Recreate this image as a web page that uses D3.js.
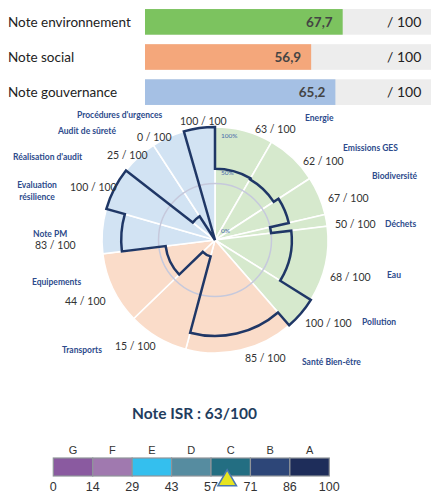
<!DOCTYPE html>
<html>
<head>
<meta charset="utf-8">
<script src="https://cdn.jsdelivr.net/npm/d3@7"></script>
<style>
  body { margin: 0; background: #fff; }
  svg { display: block; }
</style>
</head>
<body>
<div id="chart"></div>
<script>
// ---------------------------------------------------------------
// data
// ---------------------------------------------------------------
const themeNames = ["Note environnement", "Note social", "Note gouvernance"];
const themeScores = [67.7, 56.9, 65.2];
const themeLabels = ["67,7", "56,9", "65,2"];

const critNames = ["Energie", "Emissions GES", "Biodiversité", "Déchets", "Eau", "Pollution",
  "Santé Bien-être", "Transports", "Equipements",
  "Note PM", "Evaluation|résilience", "Réalisation d'audit", "Audit de sûreté", "Procédures d'urgences"];
const critScores = [63, 62, 67, 50, 68, 100, 85, 15, 44, 83, 100, 25, 0, 100];
const critGroup = ["env", "env", "env", "env", "env", "env", "soc", "soc", "soc",
  "gov", "gov", "gov", "gov", "gov"];
// angular width of each criterion (degrees)
const critSpan = [30, 27, 20, 6, 39, 17, 56, 31, 37, 23, 22, 19, 17, 16];

const ringTicks = [100, 50, 0];

const gradeLetters = ["G", "F", "E", "D", "C", "B", "A"];
const gradeTicks = ["0", "14", "29", "43", "57", "71", "86", "100"];
const isrScore = 63;

// ---------------------------------------------------------------
// layout / styles
// ---------------------------------------------------------------
const W = 431, H = 494;
const groupFill = {env: "#d6e9cd", soc: "#fadcc9", gov: "#d2e3f3"};
const barFill = ["#7cc35f", "#f4a77b", "#a5c0e4"];
const gradeFill = ["#8a5aa0", "#a079af", "#34bfee", "#568ca0", "#236e82", "#2d4678", "#1e2d5a"];

// label anchors [x, y] for name and value, same order as critNames
const namePos = [[305, 121], [343, 151], [372, 179], [385, 227], [387, 278], [362, 325],
  [302, 365], [62, 353], [32, 285], [33, 237], [37, 188], [13, 160], [58, 134], [77, 118]];
const valuePos = [[255, 133], [303, 165], [328, 202], [335, 228], [330, 281], [305, 327],
  [245, 362], [115, 350], [65, 305], [35, 249], [70, 191], [107, 159], [137, 141], [180, 125]];

const svg = d3.select("#chart")
  .append("svg")
  .attr("width", W)
  .attr("height", H)
  .attr("viewBox", `0 0 ${W} ${H}`);

// ---------------------------------------------------------------
// top bars
// ---------------------------------------------------------------
const xBar = d3.scaleLinear().domain([0, 100]).range([145, 437]);
const yBar = d3.scaleBand().domain(themeNames).range([8, 106]).paddingInner(0.27).paddingOuter(0.03);

const rows = svg.append("g").selectAll("g")
  .data(themeNames)
  .join("g")
  .attr("transform", d => `translate(0,${yBar(d)})`);

rows.append("rect")
  .attr("x", xBar(0))
  .attr("width", xBar(100) - xBar(0))
  .attr("height", yBar.bandwidth())
  .attr("fill", "#ededed");

rows.append("rect")
  .attr("x", xBar(0))
  .attr("width", (d, i) => xBar(themeScores[i]) - xBar(0))
  .attr("height", yBar.bandwidth())
  .attr("fill", (d, i) => barFill[i]);

rows.append("text")
  .attr("x", 8)
  .attr("y", yBar.bandwidth() / 2 + 5)
  .attr("font-family", "Lato, sans-serif")
  .attr("font-size", 13.5)
  .attr("fill", "#222")
  .text(d => d);

rows.append("text")
  .attr("x", (d, i) => xBar(themeScores[i]) - 10)
  .attr("y", yBar.bandwidth() / 2 + 5)
  .attr("text-anchor", "end")
  .attr("font-family", "Lato, sans-serif")
  .attr("font-weight", "bold")
  .attr("font-size", 13.5)
  .attr("fill", "#444")
  .text((d, i) => themeLabels[i]);

rows.append("text")
  .attr("x", 387)
  .attr("y", yBar.bandwidth() / 2 + 5)
  .attr("font-family", "Lato, sans-serif")
  .attr("font-size", 14)
  .attr("fill", "#222")
  .text("/ 100");

// ---------------------------------------------------------------
// polar chart
// ---------------------------------------------------------------
const cx = 215, cy = 240, R = 113;
const r = d3.scaleLinear().domain([0, 100]).range([0, R]);
const deg = Math.PI / 180;

// cumulative angles
const angles = [];
let acc = 0;
critSpan.forEach(s => { angles.push([acc * deg, (acc + s) * deg]); acc += s; });

const polar = svg.append("g").attr("transform", `translate(${cx},${cy})`);

const wedge = d3.arc().innerRadius(0).outerRadius(R);
polar.selectAll(".wedge")
  .data(critNames)
  .join("path")
  .attr("class", "wedge")
  .attr("d", (d, i) => wedge({startAngle: angles[i][0], endAngle: angles[i][1]}))
  .attr("fill", (d, i) => groupFill[critGroup[i]])
  .attr("stroke", "#fff")
  .attr("stroke-width", 1.6);

polar.append("circle")
  .attr("r", r(50))
  .attr("fill", "none")
  .attr("stroke", "#c6c9dc")
  .attr("stroke-width", 1.5);

// ring labels
const ringOffset = {100: 11, 50: -9, 0: -7};
polar.selectAll(".ring")
  .data(ringTicks)
  .join("text")
  .attr("class", "ring")
  .attr("x", 6)
  .attr("y", d => -r(d) + ringOffset[d])
  .attr("font-family", "Lato, sans-serif")
  .attr("font-size", 6.5)
  .attr("fill", "#4a6aaa")
  .text(d => d + "%");

// score outline: arc per criterion joined by radial steps
const outline = d3.path();
critScores.forEach((v, i) => {
  outline.arc(0, 0, r(v), angles[i][0] - Math.PI / 2, angles[i][1] - Math.PI / 2);
});
outline.closePath();

polar.append("path")
  .attr("d", outline.toString())
  .attr("fill", "none")
  .attr("stroke", "#1f3766")
  .attr("stroke-width", 2.5)
  .attr("stroke-linejoin", "miter");

// criterion labels
const labels = svg.append("g");
critNames.forEach((name, i) => {
  const parts = name.split("|");
  const t = labels.append("text")
    .attr("x", namePos[i][0])
    .attr("y", namePos[i][1])
    .attr("font-family", "Lato, sans-serif")
    .attr("font-weight", "bold")
    .attr("font-size", 8.5)
    .attr("fill", "#2d4b8c")
    .attr("text-anchor", parts.length > 1 ? "middle" : "start");
  parts.forEach((p, k) => {
    t.append("tspan")
      .attr("x", namePos[i][0])
      .attr("dy", k === 0 ? 0 : 12)
      .text(p);
  });

  labels.append("text")
    .attr("x", valuePos[i][0])
    .attr("y", valuePos[i][1])
    .attr("font-family", "Lato, sans-serif")
    .attr("font-size", 10.5)
    .attr("fill", "#333")
    .text(critScores[i] + " / 100");
});

// ---------------------------------------------------------------
// ISR grade scale
// ---------------------------------------------------------------
svg.append("text")
  .attr("x", 194.5)
  .attr("y", 419)
  .attr("text-anchor", "middle")
  .attr("font-family", "Lato, sans-serif")
  .attr("font-weight", "bold")
  .attr("font-size", 15.5)
  .attr("fill", "#1f3d5e")
  .text("Note ISR : " + isrScore + "/100");

const xSeg = d3.scaleLinear().domain([0, 7]).range([53.3, 329.3]);
const xIsr = d3.scaleLinear().domain([0, 100]).range([53.3, 329.3]);
const segTop = 458, segH = 18;

svg.append("g").selectAll("rect")
  .data(gradeLetters)
  .join("rect")
  .attr("x", (d, i) => xSeg(i))
  .attr("y", segTop)
  .attr("width", xSeg(1) - xSeg(0))
  .attr("height", segH)
  .attr("fill", (d, i) => gradeFill[i])
  .attr("stroke", "#8f9499")
  .attr("stroke-width", 1.2);

svg.append("g").selectAll("text")
  .data(gradeLetters)
  .join("text")
  .attr("x", (d, i) => xSeg(i + 0.5))
  .attr("y", 454)
  .attr("text-anchor", "middle")
  .attr("font-family", "Liberation Sans, Arial, sans-serif")
  .attr("font-size", 11)
  .attr("fill", "#333")
  .text(d => d);

svg.append("g").selectAll("text")
  .data(gradeTicks)
  .join("text")
  .attr("x", (d, i) => xSeg(i))
  .attr("y", 491)
  .attr("text-anchor", "middle")
  .attr("font-family", "Liberation Sans, Arial, sans-serif")
  .attr("font-size", 12.5)
  .attr("fill", "#333")
  .text(d => d);

svg.append("path")
  .attr("d", d3.symbol(d3.symbolTriangle, 150)())
  .attr("transform", `translate(${xIsr(isrScore)},480.5)`)
  .attr("fill", "#e6e420")
  .attr("stroke", "#4a78b0")
  .attr("stroke-width", 1.5);
</script>
</body>
</html>
